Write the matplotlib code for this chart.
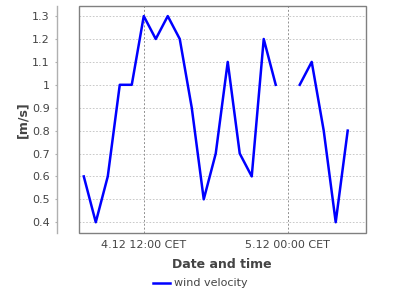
import matplotlib
matplotlib.use('Agg')
import matplotlib.pyplot as plt
from matplotlib.patches import Rectangle
import numpy as np

# Data: hours counted from 4.12 00:00 CET, one reading per hour (nan = missing)
hours = [7, 8, 9, 10, 11, 12, 13, 14, 15, 16, 17, 18, 19, 20, 21, 22, 23, 24, 25, 26, 27, 28, 29]
wind = [0.6, 0.4, 0.6, 1.0, 1.0, 1.3, 1.2, 1.3, 1.2, 0.9, 0.5, 0.7, 1.1, 0.7, 0.6, 1.2, 1.0,
        np.nan, 1.0, 1.1, 0.8, 0.4, 0.8]
x_tick_pos = [12, 24]
x_tick_labels = ['4.12 12:00 CET', '5.12 00:00 CET']
y_ticks = [0.4, 0.5, 0.6, 0.7, 0.8, 0.9, 1.0, 1.1, 1.2, 1.3]
y_tick_labels = ['0.4', '0.5', '0.6', '0.7', '0.8', '0.9', '1', '1.1', '1.2', '1.3']

TEXT_COLOR = '#444444'

fig = plt.figure(figsize=(4, 3), dpi=100)
ax = fig.add_axes([78.5 / 400, 1 - 233 / 300, (365.7 - 78.5) / 400, (233 - 6) / 300])

ax.plot(hours, wind, color='#0000ff', linewidth=1.8, label='wind velocity')

ax.set_xlim(6.56, 30.5)
ax.set_ylim(0.353, 1.344)

# grid: light dashed horizontals, darker dotted verticals
for y in y_ticks:
    ax.axhline(y, color='#c0c0c0', linewidth=0.6, linestyle=(0, (2, 2)), zorder=0)
for x in x_tick_pos:
    ax.axvline(x, color='#909090', linewidth=0.7, linestyle=(0, (2, 2)), zorder=0)

ax.set_xticks(x_tick_pos)
ax.set_xticklabels(x_tick_labels)
ax.set_yticks(y_ticks)
ax.set_yticklabels(y_tick_labels)
ax.tick_params(axis='x', length=0, pad=5, labelsize=8, labelcolor=TEXT_COLOR)
ax.tick_params(axis='y', length=1.5, color='#b0b0b0', pad=3.5, labelsize=8, labelcolor=TEXT_COLOR)

# y axis line sits away from the plot box (22 px = 15.8 pt)
for s in ['top', 'right', 'bottom']:
    ax.spines[s].set_visible(False)
ax.spines['left'].set_position(('outward', 15.8))
ax.spines['left'].set_color('#b0b0b0')
ax.spines['left'].set_linewidth(1.0)
ax.add_patch(Rectangle((0, 0), 1, 1, transform=ax.transAxes, fill=False,
                       edgecolor='#808080', linewidth=1.0, clip_on=False, zorder=5))

ax.set_xlabel('Date and time', fontsize=9, fontweight='bold', color=TEXT_COLOR, labelpad=6)
ax.set_ylabel('[m/s]', fontsize=9, fontweight='bold', color=TEXT_COLOR, labelpad=2)

leg = fig.legend(loc='center', bbox_to_anchor=(0.5, 1 - 283.5 / 300), frameon=False,
                 fontsize=8, handlelength=1.6, handletextpad=0.3, borderpad=0)
for t in leg.get_texts():
    t.set_color(TEXT_COLOR)

fig.savefig('out.png', dpi=100)
